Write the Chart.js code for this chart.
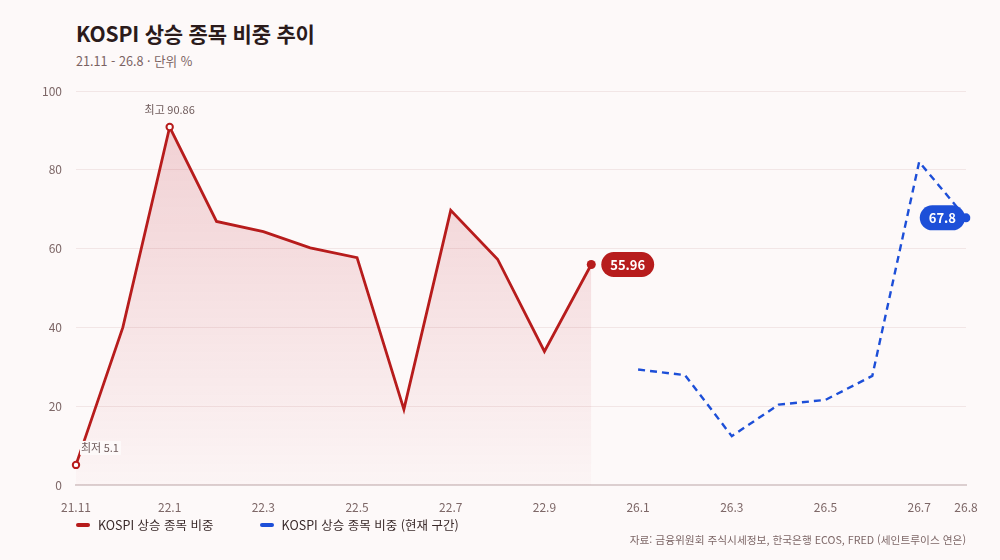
<!DOCTYPE html>
<html lang="ko">
<head>
<meta charset="utf-8">
<script src="https://cdn.jsdelivr.net/npm/chart.js@4.4.1/dist/chart.umd.min.js"></script>
<style>
  html, body { margin: 0; padding: 0; background: #fdf9f9; }
  body { width: 1000px; height: 560px; position: relative; overflow: hidden;
         font-family: "Noto Sans CJK KR", "Noto Sans", sans-serif; }
  #chart { position: absolute; left: 0; top: 0; }
  .title { position: absolute; left: 76px; top: 18px; font-size: 21px; font-weight: 700; color: #2b1b1b; letter-spacing: -0.2px; }
  .sub { position: absolute; left: 76px; top: 51px; font-size: 12.6px; color: #7a6262; }
  .legend { position: absolute; left: 76px; top: 515px; font-size: 12.5px; color: #3a2a2a; display: flex; gap: 0; }
  .legend span.item { display: inline-flex; align-items: center; margin-right: 46px; }
  .legend i { display: inline-block; width: 14px; height: 4px; border-radius: 2px; margin-right: 8px; }
  .src { position: absolute; right: 34px; top: 532px; font-size: 10.7px; color: #7d6767; }
</style>
</head>
<body>
<div class="title">KOSPI 상승 종목 비중 추이</div>
<div class="sub">21.11 - 26.8 · 단위 %</div>
<canvas id="chart" width="1000" height="560"></canvas>
<div class="legend">
  <span class="item"><i style="background:#b71c1c"></i>KOSPI 상승 종목 비중</span>
  <span class="item"><i style="background:#1d4fd8"></i>KOSPI 상승 종목 비중 (현재 구간)</span>
</div>
<div class="src">자료: 금융위원회 주식시세정보, 한국은행 ECOS, FRED (세인트루이스 연은)</div>
<script>
// categories (months)
var labels = ["21.11", "21.12", "22.1", "22.2", "22.3", "22.4", "22.5", "22.6", "22.7", "22.8", "22.9", "22.10",
              "26.1", "26.2", "26.3", "26.4", "26.5", "26.6", "26.7", "26.8"];
// past period
var pastValues = [5.1, 40.0, 90.86, 66.9, 64.3, 60.2, 57.7, 19.2, 69.7, 57.3, 33.9, 55.96,
                  null, null, null, null, null, null, null, null];
// current period
var currentValues = [null, null, null, null, null, null, null, null, null, null, null, null,
                     29.3, 27.9, 12.4, 20.4, 21.6, 27.7, 82.0, 67.8];
var yTicks = [0, 20, 40, 60, 80, 100];

var RED = "#b71c1c";
var BLUE = "#1d4fd8";
var BG = "#fdf9f9";
var FONT = '"Noto Sans CJK KR", "Noto Sans", sans-serif';

var maxIdx = 2, minIdx = 0, lastRed = 11, lastBlue = 19;

function roundRect(ctx, x, y, w, h, r) {
    ctx.beginPath();
    ctx.moveTo(x + r, y);
    ctx.arcTo(x + w, y, x + w, y + h, r);
    ctx.arcTo(x + w, y + h, x, y + h, r);
    ctx.arcTo(x, y + h, x, y, r);
    ctx.arcTo(x, y, x + w, y, r);
    ctx.closePath();
}

function pill(ctx, text, cx, cy, color, side) {
    ctx.font = "700 13px " + FONT;
    var w = ctx.measureText(text).width + 18;
    var h = 25;
    var x = side === "left" ? cx - w : cx;
    roundRect(ctx, x, cy - h / 2, w, h, h / 2);
    ctx.fillStyle = color;
    ctx.fill();
    ctx.fillStyle = "#ffffff";
    ctx.textAlign = "center";
    ctx.textBaseline = "middle";
    ctx.fillText(text, x + w / 2, cy + 0.5);
}

var notes = {
    id: "notes",
    afterDatasetsDraw: function (chart) {
        var ctx = chart.ctx;
        var red = chart.getDatasetMeta(0).data;
        var blue = chart.getDatasetMeta(1).data;
        ctx.save();
        // max label
        var pm = red[maxIdx];
        ctx.font = "11px " + FONT;
        ctx.fillStyle = "#6e5a5a";
        ctx.textAlign = "center";
        ctx.textBaseline = "middle";
        ctx.fillText("최고 " + pastValues[maxIdx], pm.x, pm.y - 17);
        // min label with background
        var pn = red[minIdx];
        var t = "최저 " + pastValues[minIdx];
        var tw = ctx.measureText(t).width;
        ctx.fillStyle = BG;
        ctx.fillRect(pn.x + 4, pn.y - 24, tw + 3, 14);
        ctx.fillStyle = "#6e5a5a";
        ctx.textAlign = "left";
        ctx.fillText(t, pn.x + 5, pn.y - 17);
        // end bubbles
        var pr = red[lastRed];
        pill(ctx, String(pastValues[lastRed]), pr.x + 10, pr.y, RED, "right");
        var pb = blue[lastBlue];
        pill(ctx, String(currentValues[lastBlue]), pb.x - 1, pb.y, BLUE, "left");
        ctx.restore();
    }
};

var ctx = document.getElementById("chart");
new Chart(ctx, {
    type: "line",
    data: {
        labels: labels,
        datasets: [
            {
                label: "KOSPI 상승 종목 비중",
                data: pastValues,
                borderColor: RED,
                borderWidth: 2.8,
                tension: 0,
                fill: "origin",
                backgroundColor: function (c) {
                    var area = c.chart.chartArea;
                    if (!area) return "rgba(190,30,45,0.1)";
                    var g = c.chart.ctx.createLinearGradient(0, area.top, 0, area.bottom);
                    g.addColorStop(0, "rgba(190,30,45,0.20)");
                    g.addColorStop(1, "rgba(190,30,45,0.02)");
                    return g;
                },
                pointRadius: function (c) {
                    var i = c.dataIndex;
                    return (i === maxIdx || i === minIdx) ? 3.2 : (i === lastRed ? 4.5 : 0);
                },
                pointBackgroundColor: function (c) {
                    return c.dataIndex === lastRed ? RED : "#ffffff";
                },
                pointBorderColor: RED,
                pointBorderWidth: function (c) { return c.dataIndex === lastRed ? 0 : 2; },
                pointHoverRadius: 0
            },
            {
                label: "KOSPI 상승 종목 비중 (현재 구간)",
                data: currentValues,
                borderColor: BLUE,
                borderWidth: 2.4,
                borderDash: [7, 5],
                tension: 0,
                fill: false,
                pointRadius: function (c) { return c.dataIndex === lastBlue ? 4.5 : 0; },
                pointBackgroundColor: BLUE,
                pointBorderWidth: 0,
                pointHoverRadius: 0
            }
        ]
    },
    plugins: [notes],
    options: {
        responsive: false,
        animation: false,
        spanGaps: false,
        layout: { padding: { left: 0, right: 34, top: 91, bottom: 45 } },
        plugins: {
            legend: { display: false },
            tooltip: { enabled: false },
            title: { display: false }
        },
        scales: {
            x: {
                offset: false,
                afterFit: function (s) { s.height = 30; },
                grid: { display: false, drawTicks: false },
                border: { display: true, color: "#dccfd0", width: 2 },
                ticks: {
                    autoSkip: false,
                    maxRotation: 0,
                    padding: 15,
                    color: "#7d6767",
                    font: { family: FONT, size: 12 },
                    callback: function (v, i) {
                        return (i % 2 === 0 || i === labels.length - 1) ? labels[i] : "";
                    }
                }
            },
            y: {
                min: 0,
                max: 100,
                afterFit: function (s) { s.width = 76; },
                afterBuildTicks: function (s) {
                    s.ticks = yTicks.map(function (v) { return { value: v }; });
                },
                grid: { color: "#f2e6e6", lineWidth: 1, drawTicks: false },
                border: { display: false },
                ticks: {
                    padding: 14,
                    color: "#7d6767",
                    font: { family: FONT, size: 12 }
                }
            }
        }
    }
});
</script>
</body>
</html>
